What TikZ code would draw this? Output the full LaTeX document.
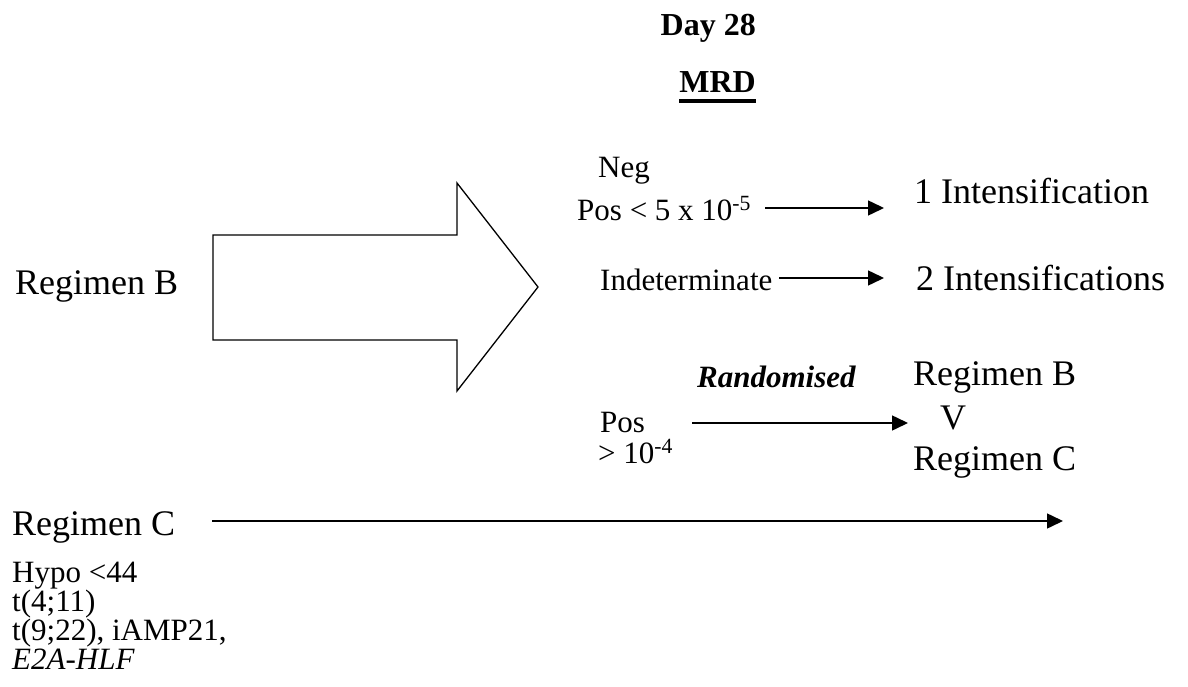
\documentclass[tikz,border=0pt]{standalone}
\usepackage{fontspec}
\setmainfont{Liberation Serif}
\usetikzlibrary{arrows.meta}
\tikzset{
  big/.style={font=\fontsize{36}{40}\selectfont, inner sep=0pt, anchor=base west},
  small/.style={font=\fontsize{31}{35}\selectfont, inner sep=0pt, anchor=base west},
  title/.style={font=\fontsize{32}{36}\selectfont\bfseries, inner sep=0pt, anchor=base east},
  conn/.style={line width=1.5pt, -{Triangle[length=16pt,width=15pt]}},
}
\begin{document}
\begin{tikzpicture}[x=1pt,y=-1pt]
\useasboundingbox (0,0) rectangle (1188,687);
% titles
\node[title] (day) at (756,36) {Day 28};
\node[title] (mrd) at (756,93) {MRD};
\draw[line width=4pt] ([yshift=-8pt]mrd.base west) -- ([yshift=-8pt]mrd.base east);
% left side
\node[big] (regB) at (15,294) {Regimen B};
\node[big] (regC) at (12,535) {Regimen C};
\node[small] (hypo) at (12,582) {Hypo <44};
\node[small] (t411) at (12,611) {t(4;11)};
\node[small] (t922) at (12,640) {t(9;22), iAMP21,};
\node[small] (e2a) at (12,669) {\itshape E2A-HLF};
% big arrow
\draw[line width=1.3pt, line join=miter] (213,235) -- (457,235) -- (457,183) -- (538,287) -- (457,391) -- (457,340) -- (213,340) -- cycle;
% right side labels
\node[small] (neg) at (598,178) {Neg};
\node[small] (pos1) at (577,220) {Pos < 5 x 10\textsuperscript{-5}};
\node[small] (indet) at (600,290) {Indeterminate};
\node[small] (pos2) at (600,432) {Pos};
\node[small] (pos3) at (598,463) {> 10\textsuperscript{-4}};
\node[small, font=\fontsize{31}{35}\selectfont\bfseries\itshape] (rand) at (697,387) {Randomised};
\node[big] (int1) at (914,204) {1 Intensification};
\node[big] (int2) at (916,290) {2 Intensifications};
\node[big] (rbB) at (913,385) {Regimen B};
\node[big] (vv) at (940,429) {V};
\node[big] (rbC) at (913,470) {Regimen C};
% connectors
\coordinate (a1s) at (765,208);
\coordinate (a1e) at (884,208);
\coordinate (a2s) at (779,278);
\coordinate (a2e) at (884,278);
\coordinate (a3s) at (692,423);
\coordinate (a3e) at (908,423);
\coordinate (a4s) at (212,521);
\coordinate (a4e) at (1063,521);
\draw[conn] (a1s) -- (a1e);
\draw[conn] (a2s) -- (a2e);
\draw[conn] (a3s) -- (a3e);
\draw[conn] (a4s) -- (a4e);
\end{tikzpicture}
\end{document}
